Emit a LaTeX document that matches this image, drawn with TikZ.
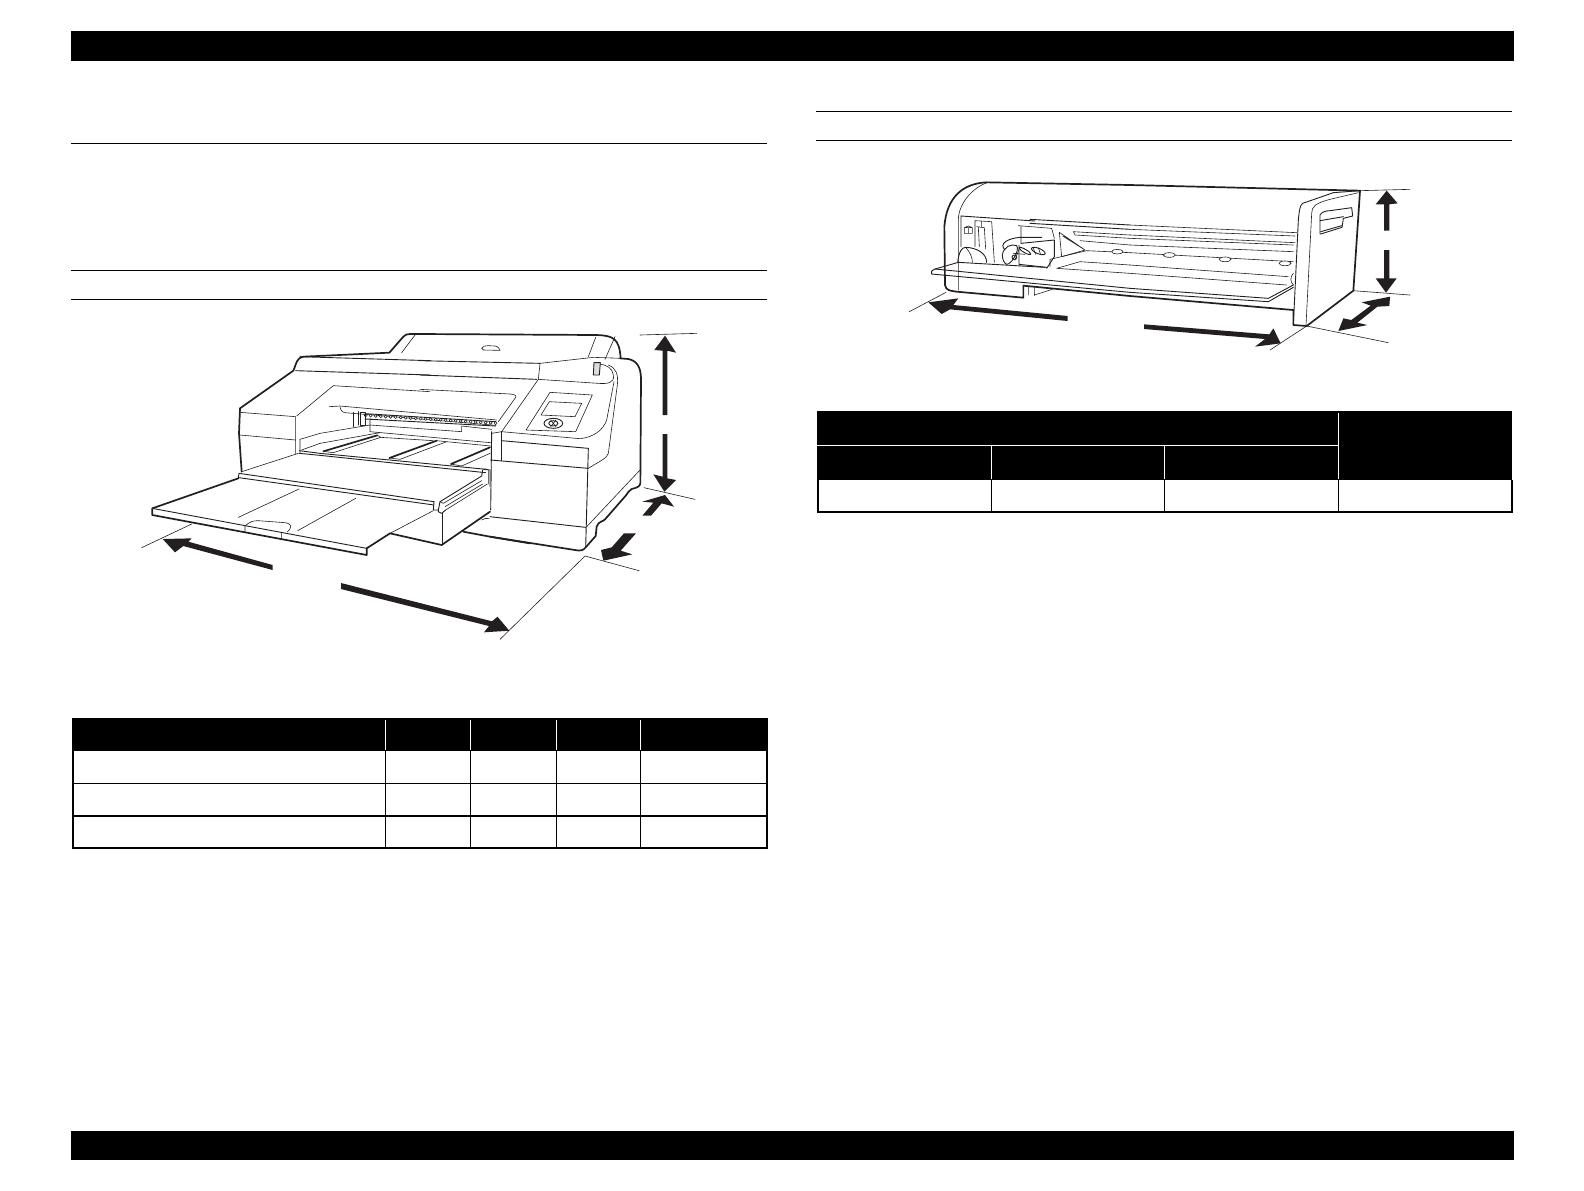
\documentclass[tikz,border=0pt]{standalone}
\definecolor{ink}{HTML}{231F20}
\tikzset{
 thn/.style={draw=ink,line width=0.3pt,line join=round,line cap=round},
 mid/.style={draw=ink,line width=0.45pt,line join=round,line cap=round},
 thk/.style={draw=ink,line width=0.85pt,line join=round,line cap=round},
 arr/.style={fill=ink,draw=none},
 rule/.style={draw=black,line width=0.5pt},
 bar/.style={fill=black,draw=none},
 za/.style={shift={(130,320)},x=0.16667pt,y=-0.16667pt},
 zb/.style={shift={(420,320)},x=0.16667pt,y=-0.16667pt},
 zc/.style={shift={(890,170)},x=0.16667pt,y=-0.16667pt},
 zd/.style={shift={(1130,170)},x=0.16667pt,y=-0.16667pt},
 ze/.style={shift={(320,390)},x=0.16667pt,y=-0.16667pt},
 zf/.style={shift={(400,460)},x=0.16667pt,y=-0.16667pt},
 zg/.style={shift={(1030,200)},x=0.16667pt,y=-0.16667pt},
 zh/.style={shift={(945,205)},x=0.16667pt,y=-0.16667pt},
}
\begin{document}
\begin{tikzpicture}[x=0.5pt,y=-0.5pt]
\useasboundingbox (0,0) rectangle (1584,1190);
% page bars
\fill[bar] (71,31) rectangle (1514,61);
\fill[bar] (71,1131) rectangle (1514,1160);
% rules
\draw[rule] (71,143) -- (767,143);
\draw[rule] (71,270) -- (767,270);
\draw[rule] (71,299) -- (767,299);
\draw[rule] (816,111) -- (1512,111);
\draw[rule] (816,140) -- (1512,140);
% table 1
\fill[bar] (72,718) rectangle (768,751);
\draw[draw=white,line width=0.4pt] (385,720) -- (385,750) (470,720) -- (470,750) (556,720) -- (556,750) (640,720) -- (640,750);
\draw[draw=black,line width=0.4pt] (385,751) -- (385,847) (470,751) -- (470,847) (556,751) -- (556,847) (640,751) -- (640,847);
\draw[draw=black,line width=0.6pt] (73,783.5) -- (767,783.5) (73,816) -- (767,816);
\draw[draw=black,line width=1pt] (73,751) -- (73,848) -- (767,848) -- (767,751);
% table 2
\fill[bar] (817,411) rectangle (1512,480);
\draw[draw=white,line width=0.4pt] (817,445) -- (1338,445) (991,446) -- (991,479) (1164,446) -- (1164,479) (1338,413) -- (1338,479);
\draw[draw=black,line width=0.4pt] (991,480) -- (991,511) (1164,480) -- (1164,511) (1338,480) -- (1338,511);
\draw[draw=black,line width=1pt] (818,480) -- (818,512) -- (1512,512) -- (1512,480);
% ---------- printer 1, left part
\begin{scope}[za]
\draw[thk] (335,455) -- (327,340) -- (330,265) -- (490,152) .. controls (500,130) and (498,115) .. (520,110) -- (778,98) -- (820,50) .. controls (826,44) and (830,42) .. (840,42) -- (900,42);
\draw[thn] (330,277) -- (497,290) (330,345) -- (497,360) (497,290) -- (497,402) (510,358) -- (510,400);
\draw[thn] (500,288) -- (610,197) -- (900,215);
\draw[mid] (497,152) -- (900,165);
\draw[mid] (510,110) -- (900,122);
\draw[thn] (815,98) -- (855,45);
\draw[thn] (335,455) -- (505,400);
\draw[thn] (510,358) -- (570,340) (515,390) -- (570,370);
\draw[mid] (508,392) -- (570,400) (508,400) -- (570,406);
\draw[mid] (327,460) -- (912,545) (327,473) -- (912,555) (327,460) -- (325,473);
\draw[thk] (325,475) -- (67,565) -- (67,585) -- (710,705) -- (710,685);
\draw[mid] (67,565) -- (710,685);
\draw[thk] (710,685) -- (780,640) -- (935,675);
\draw[thn] (780,640) -- (910,572);
\draw[thn] (325,592) -- (507,507) (503,632) -- (677,535);
\draw[thn] (345,618) .. controls (360,604) and (370,602) .. (385,602) -- (465,608) .. controls (487,612) and (487,620) .. (472,636) (345,618) -- (345,635) (455,637) -- (455,655);
\draw[thn] (35,683) -- (185,612);
\fill[arr] (428,735) -- (175,665) -- (185,655) -- (98,657) -- (135,697) -- (160,678) -- (428,750) -- cycle;
\end{scope}
% centre of printer 1: slot, rollers, paper tray
\begin{scope}[ze]
\draw[thn] (28,50) -- (60,48) -- (530,90);
\draw[thn] (60,50) .. controls (62,60) and (65,66) .. (75,68) -- (528,106);
\foreach \i in {0,...,26} \draw[thn,fill=white] ({137+\i*15},{76+\i*0.9}) circle (4.5);
\draw[mid] (135,71) -- (527,95) (135,87) -- (527,108);
\draw[mid] (100,68) -- (100,110) (115,65) -- (115,105) (122,68) -- (135,68) -- (135,105) -- (122,105) -- cycle;
\draw[thn] (150,85) -- (150,105) -- (425,125) -- (425,108) -- (515,118);
\draw[thn] (0,130) -- (150,105) (150,105) -- (150,125) -- (512,158);
\draw[thn] (0,160) -- (180,128);
\draw[thk] (10,184) -- (172,136);
\draw[thn] (10,184) -- (40,188) -- (182,142) -- (172,136);
\draw[thn] (182,142) -- (340,152);
\draw[thk] (208,204) -- (350,152);
\draw[thn] (208,204) -- (240,208) -- (380,155) -- (350,152) (380,155) -- (512,168);
\draw[thk] (393,222) -- (510,172);
\draw[thn] (425,228) -- (510,190);
\draw[thn] (393,222) -- (425,228);
\draw[mid] (0,190) -- (500,238) (0,196) -- (497,248);
\draw[thn] (495,237) -- (510,240) -- (510,290);
\draw[mid] (515,125) -- (512,360);
\draw[thn] (545,128) -- (545,210);
\end{scope}
% front box of printer 1
\begin{scope}[zf]
\draw[mid] (248,30) -- (245,48) -- (120,125) -- (115,150);
\draw[thn] (245,62) -- (130,130) (248,72) -- (135,140) (262,72) -- (137,150) (120,125) -- (130,130);
\draw[thn] (250,28) -- (265,30) -- (265,72);
\draw[mid] (102,125) -- (100,150) -- (115,150) -- (115,155) -- (125,160) -- (137,150);
\draw[thn] (128,160) -- (128,253);
\draw[thk] (125,255) -- (270,155);
\draw[thk] (190,215) -- (270,230) -- (390,250);
\draw[thn] (245,180) .. controls (250,175) and (260,175) .. (268,175);
\end{scope}
% long arrow
\fill[arr] (341,583) -- (492,621.3) -- (497.5,616.7) -- (509.3,630.7) -- (484,632.3) -- (489,626) -- (341,589) -- cycle;
% ---------- printer 1, right part
\begin{scope}[zb]
\draw[thk] (0,42) -- (530,45) .. controls (580,47) and (598,55) .. (602,115);
\draw[thn] (505,110) -- (527,52) (555,118) -- (585,50);
\draw[thn] (185,85) .. controls (188,78) and (195,77) .. (205,77) -- (225,78) .. controls (235,80) and (238,86) .. (240,91) -- (190,90) -- cycle;
\draw[mid] (0,122) -- (360,130);
\draw[mid] (0,165) -- (350,178);
\draw[thk] (600,115) -- (625,117) .. controls (650,122) and (662,140) .. (663,175) -- (661,490) .. controls (660,500) and (650,503) .. (635,507) .. controls (625,510) and (625,520) .. (618,526) -- (555,598) .. controls (550,605) and (535,603) .. (530,620) -- (527,648) -- (497,682) .. controls (490,692) and (480,693) .. (465,690) -- (210,650);
\draw[thn] (360,130) -- (520,112) -- (605,115);
\draw[thn] (360,130) -- (355,178) -- (245,335) -- (215,340);
\draw[thn] (355,178) -- (535,190) .. controls (560,192) and (585,190) .. (580,165) .. controls (578,145) and (560,135) .. (540,132);
\draw[thn] (565,135) .. controls (590,145) and (595,165) .. (592,195) -- (565,400) .. controls (560,415) and (545,420) .. (505,445);
\draw[thn] (582,185) -- (560,300) .. controls (550,330) and (520,352) .. (480,356) -- (245,335);
\draw[thn] (390,217) -- (517,225) -- (467,335) -- (318,330) -- cycle;
\draw[thn] (388,245) -- (485,250) -- (465,290) -- (363,285) -- cycle;
\draw[mid] (400,310) ellipse (28 and 15);
\draw[mid] (400,310) ellipse (14 and 8);
\draw[thn] (392,300) -- (408,320) (408,300) -- (392,320);
\draw[mid,fill=ink!15] (522,128) -- (541,128) -- (538,165) -- (520,165) -- cycle;
\draw[thn] (0,208) -- (270,222) .. controls (290,224) and (290,228) .. (285,235) -- (235,305);
\draw[thn] (245,335) -- (245,422);
\draw[mid] (212,420) -- (505,445) (245,362) -- (505,385) (210,590) -- (497,622);
\draw[mid] (505,385) -- (497,682);
\draw[thn] (660,450) -- (500,620);
\draw[thn] (660,45) -- (830,40) (672,503) -- (825,538) (495,708) -- (657,752) (495,708) -- (240,958);
\fill[arr] (728,285) -- (728,92) -- (703,90) -- (735,47) -- (768,98) -- (742,92) -- (742,285) -- cycle;
\fill[arr] (728,342) -- (728,470) -- (700,463) -- (733,515) -- (768,480) -- (742,475) -- (742,342) -- cycle;
\fill[arr] (667,587) -- (700,548) -- (667,545) -- (735,525) -- (762,560) -- (725,550) -- (693,587) -- cycle;
\fill[arr] (612,640) -- (648,640) -- (602,692) -- (637,703) -- (550,722) -- (543,690) -- (575,682) -- cycle;
\end{scope}
% ---------- printer 2, left part
\begin{scope}[zc]
\draw[thk] (165,345) -- (163,170) .. controls (170,80) and (220,40) .. (290,37) -- (720,45);
\draw[thk] (165,345) .. controls (168,362) and (180,362) .. (200,365) -- (400,383) -- (400,347) -- (720,378);
\draw[thn] (205,360) -- (205,150) .. controls (205,100) and (250,50) .. (295,37);
\draw[mid] (135,297) -- (205,277) -- (465,292);
\draw[mid] (125,303) -- (125,312) -- (720,367) (135,297) -- (125,303) (135,297) -- (720,355);
\draw[thn] (58,425) -- (168,367);
\fill[arr] (533,438) -- (533,453) -- (180,418) -- (155,432) -- (115,397) -- (205,385) -- (190,405) -- cycle;
\end{scope}
% mechanism of printer 2
\begin{scope}[zh]
\draw[mid] (48,33) -- (270,48);
\draw[thn] (48,33) -- (48,125) (140,50) -- (148,172) (90,47) -- (140,50) (90,47) -- (90,125) (110,50) -- (110,66);
\draw[thn] (58,68) -- (70,63) -- (82,68) -- (82,85) -- (58,85) -- cycle (70,68) -- (70,85) (58,68) -- (70,68) -- (82,68);
\draw[thn] (95,65) -- (118,68) -- (122,132) (100,68) -- (103,125);
\draw[mid] (38,172) .. controls (42,140) and (50,127) .. (62,127) .. controls (95,128) and (125,145) .. (125,172);
\draw[thn] (62,127) .. controls (78,145) and (82,160) .. (82,172);
\draw[thn] (220,62) -- (320,70) -- (328,100) (228,65) -- (228,115);
\draw[mid] (228,115) -- (328,105) -- (328,155) -- (305,190) (222,120) -- (222,178) (222,178) -- (305,187);
\draw[mid] (180,135) .. controls (160,115) and (190,100) .. (225,97) -- (290,97);
\draw[mid] (172,150) .. controls (175,125) and (200,115) .. (215,122) .. controls (225,135) and (200,178) .. (185,178) .. controls (178,175) and (172,165) .. (172,150);
\draw[mid] (208,157) circle (7);
\draw[mid,rotate around={-30:(240,138)}] (240,138) ellipse (20 and 5);
\draw[mid,rotate around={-22:(280,138)}] (280,138) ellipse (22 and 8);
\draw[thn] (265,130) -- (272,148) (280,128) -- (286,146);
\draw[thn] (205,145) -- (240,148) (225,125) -- (210,165);
\end{scope}
\begin{scope}[zg]
\draw[mid] (0,58) -- (300,75) (0,70) -- (300,88);
\draw[thn] (88,97) -- (165,150) -- (95,170) -- cycle (98,108) -- (165,150);
\draw[thn] (130,95) -- (300,105) (135,105) -- (300,115) (130,95) -- (135,105) (150,122) -- (300,135);
\draw[thn] (60,200) -- (60,178) -- (170,152) -- (300,158);
\draw[thn] (80,205) -- (150,185) -- (300,195) (80,205) -- (300,220);
\draw[thn] (13,258) -- (13,287) (-5,258) -- (-5,285) (13,285) -- (67,268);
\draw[thn,fill=white] (262,155) ellipse (17 and 7);
\end{scope}
% ---------- printer 2, right part
\begin{scope}[zd]
\draw[thk] (0,45) -- (690,62);
\draw[thn] (0,165) -- (500,188) (0,178) -- (495,198) (0,195) -- (495,218) (0,205) -- (490,225) (0,225) -- (490,245) (0,248) -- (490,275) (0,285) -- (475,320) (0,310) -- (470,345);
\draw[mid] (0,355) -- (415,385) (0,367) -- (415,395) (415,385) -- (490,345) (415,395) -- (490,352);
\draw[thk] (0,378) -- (490,420);
\foreach \p in {(118,255),(285,268),(465,280)} \draw[thn,fill=white] \p ellipse (18 and 7);
\draw[thn] (490,310) .. controls (480,320) and (480,335) .. (490,345);
\draw[mid] (690,62) -- (610,68) -- (518,100) .. controls (510,105) and (508,120) .. (505,150) -- (490,465);
\draw[thk] (490,420) -- (490,465) -- (530,468) -- (670,362) -- (690,62);
\draw[thn] (685,68) -- (600,88) .. controls (555,100) and (545,110) .. (545,130) -- (528,465);
\draw[mid] (570,192) -- (570,135) .. controls (575,125) and (590,122) .. (600,122) -- (665,113) -- (668,138) -- (640,145) -- (636,172) -- (572,192);
\draw[mid] (570,152) -- (640,140) (572,185) -- (635,167);
\draw[thn] (690,62) -- (840,58) (670,362) -- (840,375) (530,468) -- (775,518) (530,468) -- (420,540);
\fill[arr] (762,182) -- (762,103) -- (737,103) -- (770,62) -- (803,100) -- (778,103) -- (778,182) -- cycle;
\fill[arr] (762,240) -- (762,325) -- (737,325) -- (768,368) -- (800,325) -- (778,325) -- (778,240) -- cycle;
\fill[arr] (780,380) -- (695,397) -- (722,407) -- (664,450) -- (640,445) -- (625,483) -- (712,465) -- (682,458) -- (742,410) -- (778,408) -- cycle;
\fill[arr] (42,463) -- (418,493) -- (430,475) -- (452,520) -- (375,530) -- (405,507) -- (42,477) -- cycle;
\end{scope}
\end{tikzpicture}
\end{document}
